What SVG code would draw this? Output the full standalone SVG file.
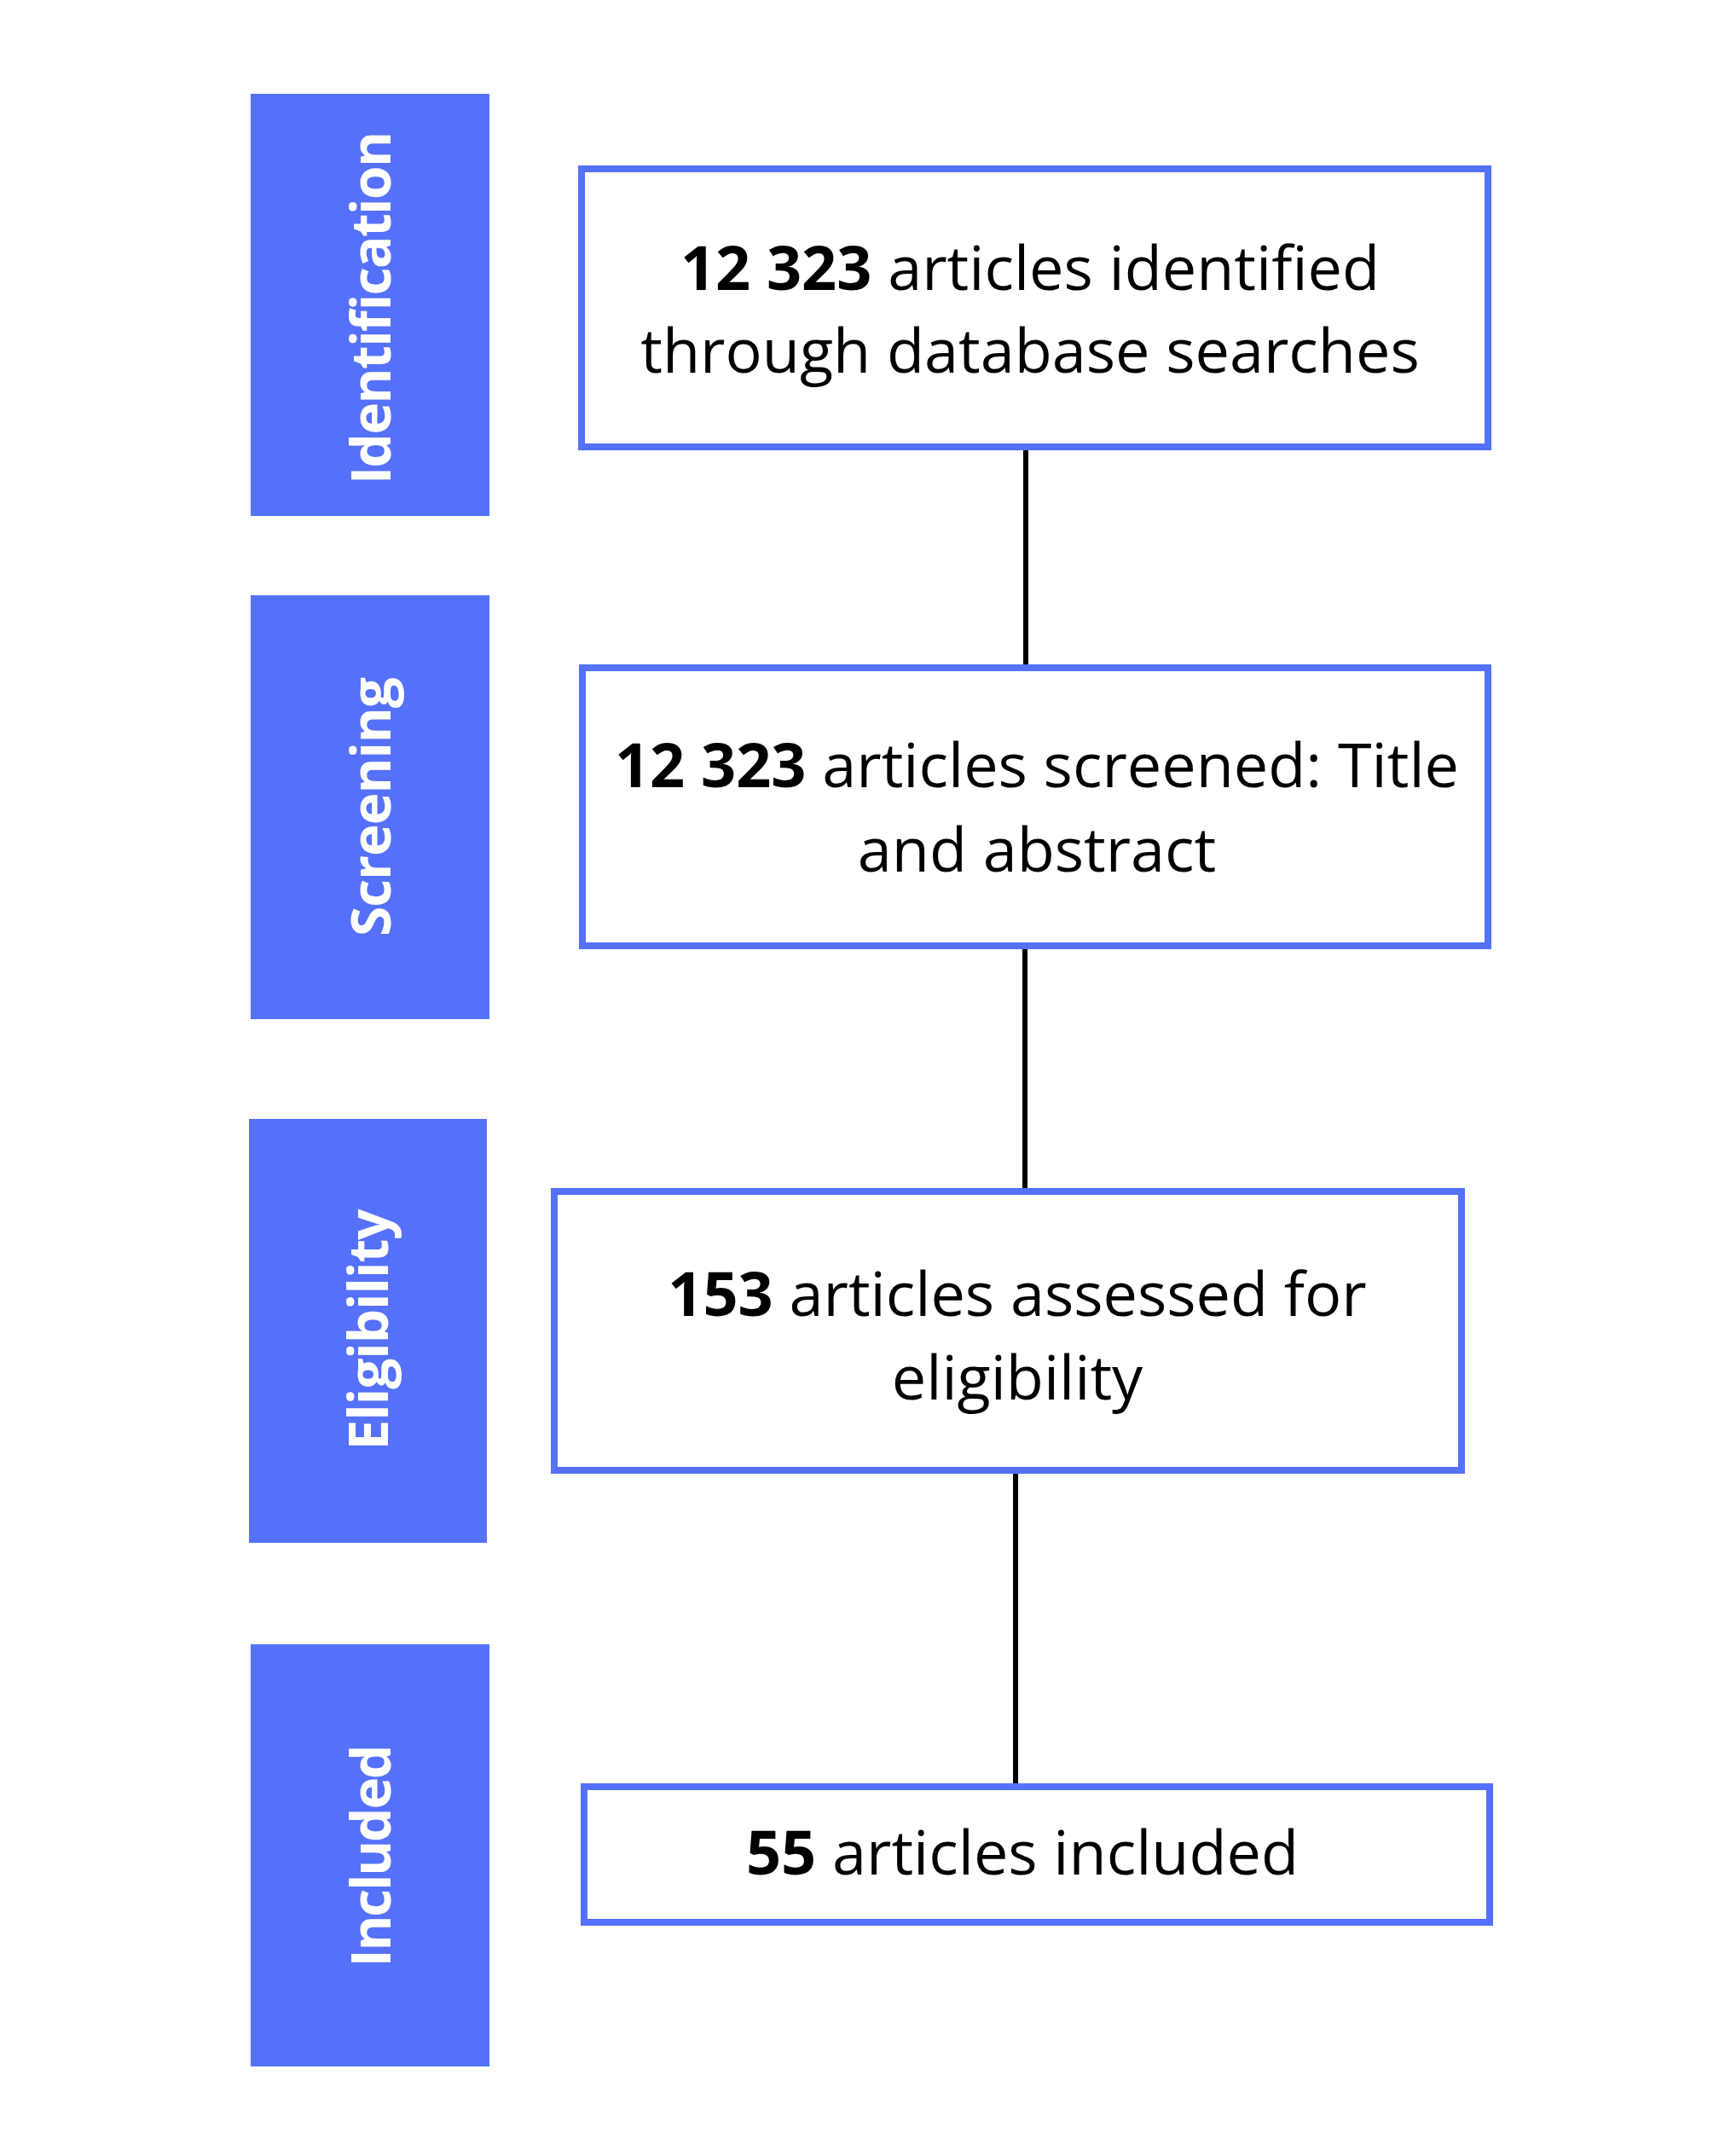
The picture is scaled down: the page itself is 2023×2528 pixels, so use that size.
<svg xmlns="http://www.w3.org/2000/svg" width="2023" height="2528" viewBox="0 0 2023 2528">
<style>
.band{fill:#5571FA}
.blab{fill:#ffffff;font-family:"Open Sans","DejaVu Sans",sans-serif;font-weight:700;font-size:64px;text-anchor:middle}
.box{fill:#ffffff;stroke:#5571FA;stroke-width:8}
.txt{fill:#000000;font-family:"Open Sans","DejaVu Sans",sans-serif;font-size:72px;text-anchor:middle}
.b{font-weight:700}
.conn{stroke:#000000;stroke-width:6;fill:none}
</style>
<rect width="2023" height="2528" fill="#ffffff"/>
<g id="connectors">
<line class="conn" x1="1203" y1="528" x2="1203" y2="780"/>
<line class="conn" x1="1202" y1="1113" x2="1202" y2="1394"/>
<line class="conn" x1="1191" y1="1728" x2="1191" y2="2092"/>
</g>
<g id="stage-identification">
<rect class="band" x="294" y="110" width="280" height="495"/>
<text class="blab" transform="translate(458,361) rotate(-90)" textLength="414">Identification</text>
</g>
<g id="stage-screening">
<rect class="band" x="294" y="698" width="280" height="497"/>
<text class="blab" transform="translate(458,946) rotate(-90)" textLength="304">Screening</text>
</g>
<g id="stage-eligibility">
<rect class="band" x="292" y="1312" width="279" height="497"/>
<text class="blab" transform="translate(455,1559) rotate(-90)" textLength="283">Eligibility</text>
</g>
<g id="stage-included">
<rect class="band" x="294" y="1928" width="280" height="495"/>
<text class="blab" transform="translate(458,2176) rotate(-90)" textLength="261">Included</text>
</g>
<g id="node-identified">
<rect class="box" x="682" y="198" width="1063" height="326"/>
<text class="txt" x="1208" y="340"><tspan class="b">12 323</tspan> articles identified</text>
<text class="txt" x="1208" y="437">through database searches</text>
</g>
<g id="node-screened">
<rect class="box" x="683" y="783" width="1062" height="326"/>
<text class="txt" x="1216" y="923"><tspan class="b">12 323</tspan> articles screened: Title</text>
<text class="txt" x="1216" y="1022">and abstract</text>
</g>
<g id="node-assessed">
<rect class="box" x="650" y="1397" width="1064" height="327"/>
<text class="txt" x="1193" y="1543"><tspan class="b">153</tspan> articles assessed for</text>
<text class="txt" x="1193" y="1641">eligibility</text>
</g>
<g id="node-included">
<rect class="box" x="685" y="2095" width="1062" height="159"/>
<text class="txt" x="1199" y="2198"><tspan class="b">55</tspan> articles included</text>
</g>
</svg>
